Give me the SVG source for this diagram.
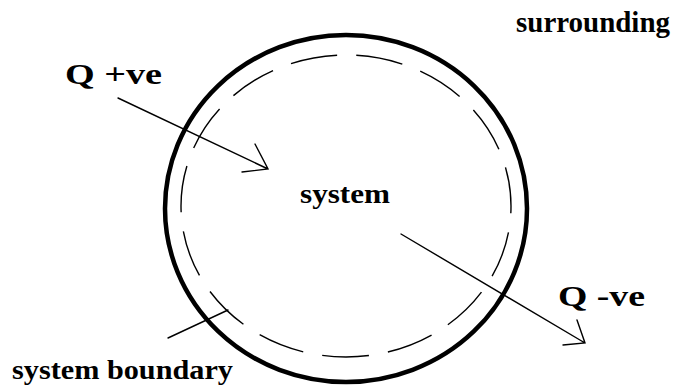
<svg xmlns="http://www.w3.org/2000/svg" width="679" height="387" viewBox="0 0 679 387">
<style>
.t{font-family:"Liberation Serif","Times New Roman",serif;font-weight:bold;fill:#000;}
.ln{stroke:#000;stroke-width:1.4;fill:none;stroke-linecap:round;}
</style>
<rect width="679" height="387" fill="#fff"/>
<g id="system">
<ellipse cx="346" cy="208.5" rx="181" ry="173.5" fill="none" stroke="#000" stroke-width="4.5"/>
<ellipse cx="346" cy="206" rx="165" ry="151" fill="none" stroke="#000" stroke-width="1.4" pathLength="1000" stroke-dasharray="47.3 19.4" stroke-dashoffset="40"/>
<text class="t" x="300" y="203" font-size="28" textLength="90" lengthAdjust="spacingAndGlyphs">system</text>
</g>
<g id="surrounding">
<text class="t" x="516" y="32" font-size="30" textLength="154" lengthAdjust="spacingAndGlyphs">surrounding</text>
</g>
<g id="q-in">
<text class="t" x="65" y="84" font-size="30" textLength="97" lengthAdjust="spacingAndGlyphs">Q +ve</text>
</g>
<g id="q-out">
<text class="t" x="558" y="306" font-size="30" textLength="87" lengthAdjust="spacingAndGlyphs">Q -ve</text>
</g>
<g id="boundary-label">
<text class="t" x="12" y="379" font-size="28" textLength="221" lengthAdjust="spacingAndGlyphs">system boundary</text>
</g>
<g id="connectors">
<path class="ln" d="M118 98 L268 169 M255 144 L268 169 L242 172"/>
<path class="ln" d="M401 234 L585 343 M577 320 L585 343 L563 345"/>
<path class="ln" d="M168 338 L228 310"/>
</g>
</svg>
